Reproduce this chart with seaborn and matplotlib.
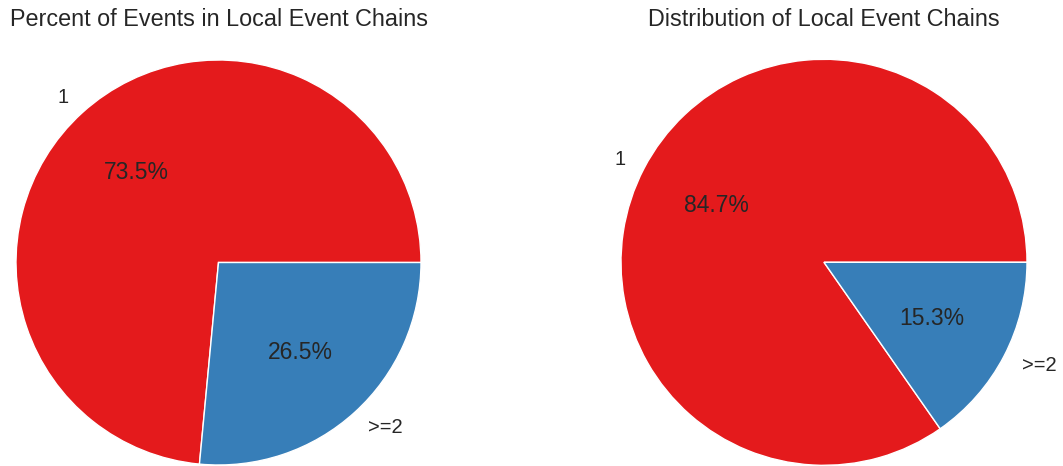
import matplotlib
matplotlib.use("Agg")
import matplotlib.pyplot as plt
import seaborn as sns

# Share of events and of chains by local event chain length
chain_labels = ["1", ">=2"]
events_pct = [73.5, 26.5]
chains_pct = [84.7, 15.3]
titles = ["Percent of Events in Local Event Chains", "Distribution of Local Event Chains"]

sns.set_style("white")
plt.rcParams["font.family"] = ["Liberation Sans", "DejaVu Sans"]
text_color = "#262626"
colors = sns.color_palette("Set1", 2)

W, H = 1063, 466
fig = plt.figure(figsize=(W / 100, H / 100), dpi=100)

# pixel geometry of each pie: centre x, centre y (from top), radius
pies = [(218.5, 262.5, 202.5, events_pct, titles[0]),
        (824.0, 262.3, 203.0, chains_pct, titles[1])]

for cx, cy, r, values, title in pies:
    ax = fig.add_axes([(cx - r) / W, (H - cy - r) / H, 2 * r / W, 2 * r / H])
    wedges, texts, autotexts = ax.pie(
        values, labels=chain_labels, colors=colors, autopct="%1.1f%%",
        wedgeprops=dict(edgecolor="white", linewidth=1),
        textprops=dict(color=text_color),
    )
    for w in wedges:
        w.set_clip_on(False)
    for t in texts:
        t.set_fontsize(14.5)
    for t in autotexts:
        t.set_fontsize(16.5)
    ax.set_xlim(-1, 1)
    ax.set_ylim(-1, 1)
    ax.set_aspect("equal")
    ax.axis("off")
    fig.text(cx / W, (H - 26) / H, title, ha="center", va="baseline",
             fontsize=16.8, color=text_color)

fig.savefig("out.png", dpi=100)
